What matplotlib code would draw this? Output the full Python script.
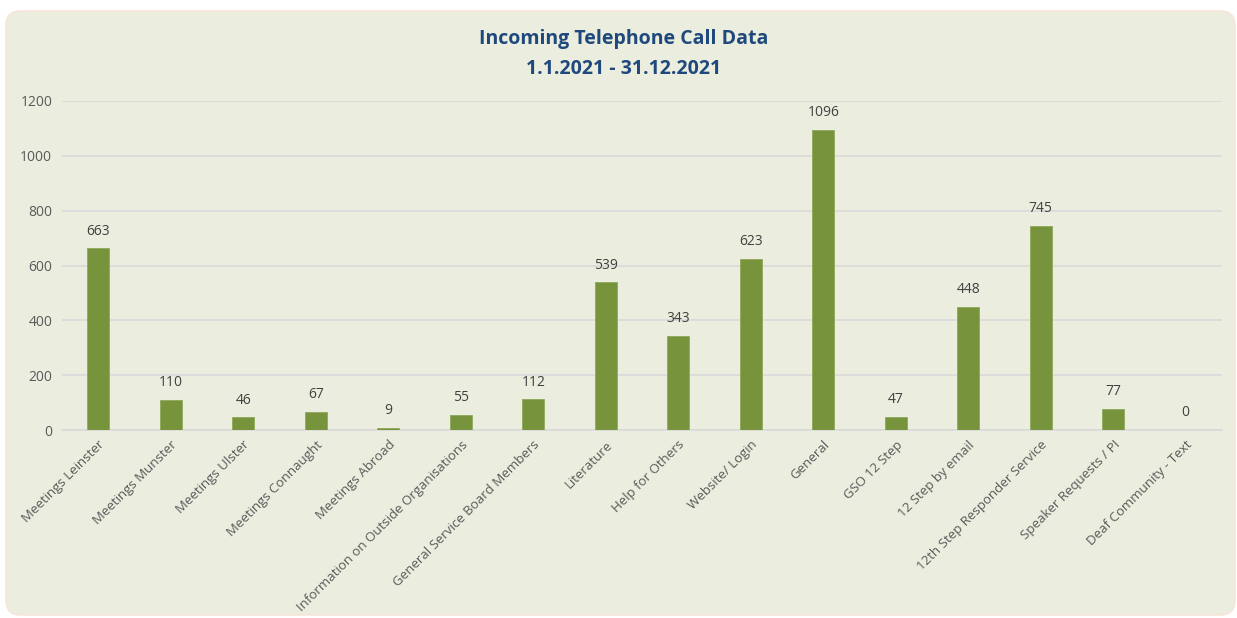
import matplotlib
matplotlib.use("Agg")
import matplotlib.pyplot as plt
from matplotlib.patches import FancyBboxPatch

categories = ["Meetings Leinster", "Meetings Munster", "Meetings Ulster", "Meetings Connaught",
              "Meetings Abroad", "Information on Outside Organisations", "General Service Board Members",
              "Literature", "Help for Others", "Website/ Login", "General", "GSO 12 Step",
              "12 Step by email", "12th Step Responder Service", "Speaker Requests / PI",
              "Deaf Community - Text"]
values = [663, 110, 46, 67, 9, 55, 112, 539, 343, 623, 1096, 47, 448, 745, 77, 0]
yticks = [0, 200, 400, 600, 800, 1000, 1200]
title = "Incoming Telephone Call Data\n1.1.2021 - 31.12.2021"

plt.rcParams['font.family'] = ['Open Sans', 'DejaVu Sans']

W, H = 1237, 618
fig = plt.figure(figsize=(W/100, H/100), dpi=100, facecolor='white')

bg = FancyBboxPatch((6/W, 3/H), (W-8)/W, (H-14)/H,
                    boxstyle="round,pad=0,rounding_size=0.012",
                    transform=fig.transFigure, facecolor='#EBEEDF',
                    edgecolor='#F7E6D8', linewidth=1.2, mutation_aspect=W/H,
                    zorder=-10)
fig.patches.append(bg)

ax = fig.add_axes([62/W, 1-430/H, (1222-62)/W, (430-101)/H])
ax.set_zorder(5)
ax.set_facecolor('none')
x = list(range(len(categories)))
ax.bar(x, values, width=0.31, color='#77933C', edgecolor='#8FA85A', linewidth=0.6, zorder=3)
for xi, v in zip(x, values):
    ax.annotate(str(v), (xi, v), xytext=(0, 7), textcoords='offset points',
                ha='center', va='bottom', fontsize=10, color='#404040')

ax.set_xlim(-0.5, len(categories)-0.5)
ax.set_ylim(0, 1200)
ax.set_yticks(yticks)
ax.set_yticklabels([str(t) for t in yticks], fontsize=10, color='#595959')
ax.yaxis.grid(True, color='#D9D9D9', linewidth=1.2, zorder=0)
ax.set_axisbelow(True)
ax.tick_params(axis='y', length=0, pad=7)
ax.tick_params(axis='x', length=0, pad=6)
ax.set_xticks(x)
ax.set_xticklabels(categories, rotation=45, ha='right', rotation_mode='anchor',
                   fontsize=9.5, color='#595959')
for s in ['top', 'right', 'left']:
    ax.spines[s].set_visible(False)
ax.spines['bottom'].set_color('#D9D9D9')
ax.spines['bottom'].set_linewidth(1.2)

fig.text(624/W, 1-54/H, title, ha='center', va='center', fontsize=14,
         fontweight='bold', color='#1F497D', linespacing=1.65, zorder=6)

fig.savefig('out.png', dpi=100, facecolor='white')
